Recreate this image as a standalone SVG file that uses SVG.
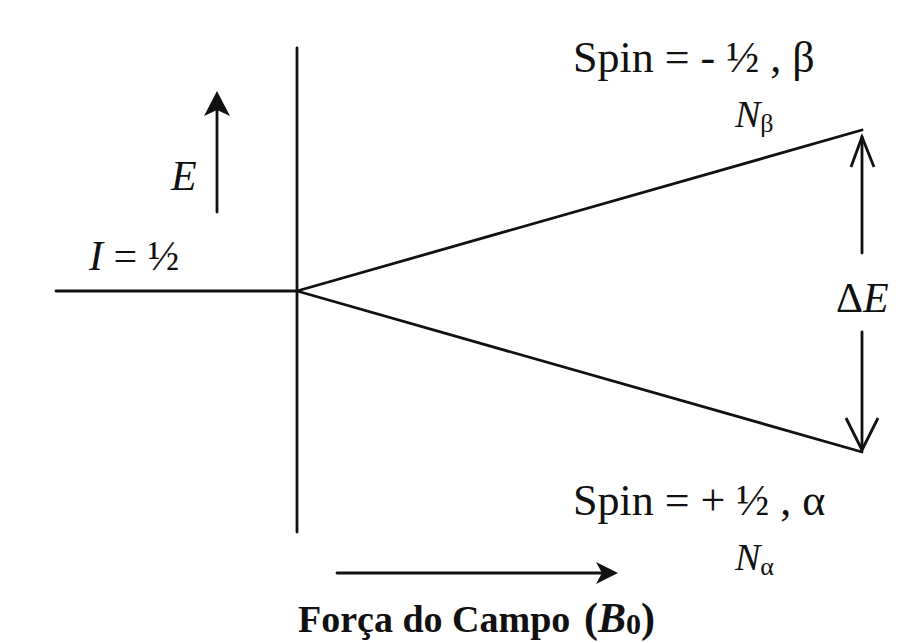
<svg xmlns="http://www.w3.org/2000/svg" width="905" height="643" viewBox="0 0 905 643">
<style>
.ln{stroke:#111;stroke-width:2.8;fill:none;stroke-linecap:round}
.ah{stroke:#111;stroke-width:2.8;fill:none;stroke-linejoin:miter}
.fh{fill:#111;stroke:none}
.t{font-family:"Liberation Serif","Times New Roman",serif;fill:#111}
.i{font-style:italic}
</style>
<rect width="905" height="643" fill="#fff"/>
<g id="connectors">
  <line class="ln" x1="297" y1="48" x2="297" y2="532"/>
  <line class="ln" x1="56" y1="291" x2="297" y2="291"/>
  <line class="ln" x1="297" y1="291" x2="862" y2="130"/>
  <line class="ln" x1="297" y1="291" x2="862" y2="452"/>
  <line class="ln" x1="217" y1="212" x2="217" y2="100"/>
  <path class="fh" d="M217,91 L230,116 L217,110 L204,116 Z"/>
  <line class="ln" x1="337" y1="573" x2="608" y2="573"/>
  <path class="fh" d="M618,573 L596,562 L602,573 L596,584 Z"/>
  <line class="ln" x1="862" y1="137" x2="862" y2="253"/>
  <path class="ah" d="M851,167 L862,137 L874,167"/>
  <line class="ln" x1="862" y1="332" x2="862" y2="450"/>
  <path class="ah" d="M846,418 L862,450 L878,418"/>
</g>
<g id="label-E"><text class="t i" x="171" y="190" font-size="42">E</text></g>
<g id="label-I"><text class="t" x="89" y="270" font-size="42"><tspan class="i">I</tspan> = ½</text></g>
<g id="label-spin-beta"><text class="t" x="573" y="72" font-size="44">Spin = - ½ , β</text></g>
<g id="label-Nbeta"><text class="t" x="735" y="127" font-size="38"><tspan class="i">N</tspan><tspan font-size="26" dy="5">β</tspan></text></g>
<g id="label-dE"><text class="t" x="836" y="312" font-size="42">Δ<tspan class="i">E</tspan></text></g>
<g id="label-spin-alpha"><text class="t" x="573" y="515" font-size="44">Spin = + ½ , α</text></g>
<g id="label-Nalpha"><text class="t" x="735" y="570" font-size="38"><tspan class="i">N</tspan><tspan font-size="26" dy="5">α</tspan></text></g>
<g id="label-field"><text class="t" x="298" y="632" font-size="38" font-weight="bold">Força do Campo<tspan x="584" font-size="42">(</tspan><tspan class="i" font-size="42">B</tspan><tspan font-size="30" dy="2">0</tspan><tspan font-size="42" dy="-2">)</tspan></text></g>
</svg>
